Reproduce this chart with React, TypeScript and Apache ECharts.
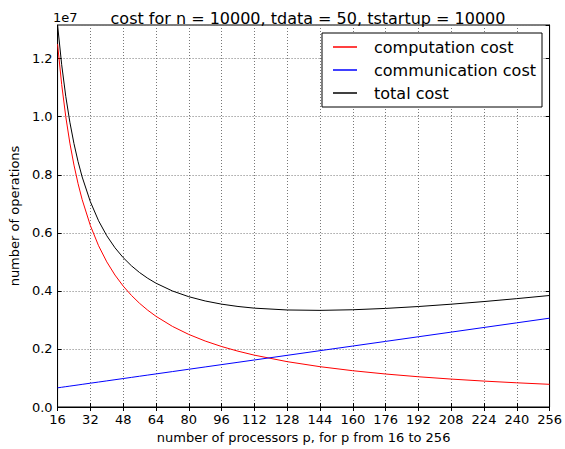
import React, { useEffect, useRef } from "react";
import * as echarts from "echarts";

const processors = [16, 18, 20, 22, 24, 26, 28, 32, 36, 40, 44, 48, 52, 56, 60, 64, 72, 80, 88, 96, 104, 112, 128, 144, 160, 176, 192, 208, 224, 240, 256];
const computationCost = [12500000, 11111111, 10000000, 9090909, 8333333, 7692308, 7142857, 6250000, 5555556, 5000000, 4545455, 4166667, 3846154, 3571429, 3333333, 3125000, 2777778, 2500000, 2272727, 2083333, 1923077, 1785714, 1562500, 1388889, 1250000, 1136364, 1041667, 961538, 892857, 833333, 781250];
const communicationCost = [660000, 680000, 700000, 720000, 740000, 760000, 780000, 820000, 860000, 900000, 940000, 980000, 1020000, 1060000, 1100000, 1140000, 1220000, 1300000, 1380000, 1460000, 1540000, 1620000, 1780000, 1940000, 2100000, 2260000, 2420000, 2580000, 2740000, 2900000, 3060000];
const totalCost = [13160000, 11791111, 10700000, 9810909, 9073333, 8452308, 7922857, 7070000, 6415556, 5900000, 5485455, 5146667, 4866154, 4631429, 4433333, 4265000, 3997778, 3800000, 3652727, 3543333, 3463077, 3405714, 3342500, 3328889, 3350000, 3396364, 3461667, 3541538, 3632857, 3733333, 3841250];

const seriesNames = ["computation cost", "communication cost", "total cost"];
const seriesColors = ["#ff0000", "#0000ff", "#000000"];
const titleText = "cost for n = 10000, tdata = 50, tstartup = 10000";
const xName = "number of processors p, for p from 16 to 256";
const yName = "number of operations";

const FONT = "DejaVu Sans";

export default function App() {
  const ref = useRef<HTMLDivElement>(null);
  useEffect(() => {
    document.body.style.margin = "0";
    const chart = echarts.init(ref.current!, null, { renderer: "svg" });
    const pairs = (ys: number[]) => processors.map((p, i) => [p, ys[i]]);
    const gridLine = { show: true, lineStyle: { color: "#777", width: 1, type: [1, 2] } };
    const labelStyle = { color: "#000", fontSize: 13, fontFamily: FONT };
    chart.setOption({
      animation: false,
      textStyle: { fontFamily: FONT },
      title: {
        text: titleText,
        left: 303,
        textAlign: "center",
        top: 5,
        textStyle: { fontSize: 16, fontWeight: "normal", color: "#000", fontFamily: FONT },
      },
      legend: {
        orient: "vertical",
        left: 322,
        top: 33,
        width: 222,
        data: seriesNames,
        backgroundColor: "#fff",
        borderColor: "#000",
        borderWidth: 1,
        borderRadius: 0,
        padding: [5, 6, 5, 11],
        itemWidth: 24,
        itemHeight: 1.5,
        itemGap: 5,
        icon: "rect",
        textStyle: { fontSize: 16, color: "#000", fontFamily: FONT, lineHeight: 18, padding: [0, 0, 0, 12] },
      },
      grid: {
        left: 53,
        right: 13,
        top: 25,
        bottom: 38,
        show: true,
        borderColor: "#000",
        borderWidth: 1,
        backgroundColor: "transparent",
      },
      graphic: [
        {
          type: "text",
          left: 53,
          top: 11,
          style: { text: "1e7", fontSize: 13, fill: "#000", fontFamily: FONT },
        },
      ],
      xAxis: [
        {
          type: "value",
          min: 16,
          max: 256,
          interval: 16,
          name: xName,
          nameLocation: "middle",
          nameGap: 24,
          nameTextStyle: { fontSize: 13, color: "#000", fontFamily: FONT },
          axisLine: { show: true, lineStyle: { color: "#000", width: 1 } },
          axisTick: { show: true, inside: true, length: 4, lineStyle: { color: "#000" } },
          axisLabel: { ...labelStyle, margin: 6 },
          splitLine: gridLine,
        },
        {
          type: "value",
          position: "top",
          min: 16,
          max: 256,
          interval: 16,
          axisLine: { show: true, lineStyle: { color: "#000", width: 1 } },
          axisTick: { show: true, inside: true, length: 4, lineStyle: { color: "#000" } },
          axisLabel: { show: false },
          splitLine: { show: false },
        },
      ],
      yAxis: [
        {
          type: "value",
          min: 0,
          max: 13160000,
          interval: 2000000,
          name: yName,
          nameLocation: "middle",
          nameRotate: 90,
          nameGap: 32,
          nameTextStyle: { fontSize: 13, color: "#000", fontFamily: FONT },
          axisLine: { show: true, lineStyle: { color: "#000", width: 1 } },
          axisTick: { show: true, inside: true, length: 4, lineStyle: { color: "#000" } },
          axisLabel: {
            ...labelStyle,
            margin: 5,
            showMaxLabel: false,
            formatter: (v: number) => (v / 1e7).toFixed(1),
          },
          splitLine: gridLine,
        },
        {
          type: "value",
          position: "right",
          min: 0,
          max: 13160000,
          interval: 2000000,
          axisLine: { show: true, lineStyle: { color: "#000", width: 1 } },
          axisTick: { show: true, inside: true, length: 4, lineStyle: { color: "#000" } },
          axisLabel: { show: false },
          splitLine: { show: false },
        },
      ],
      series: [computationCost, communicationCost, totalCost].map((ys, i) => ({
        name: seriesNames[i],
        type: "line",
        data: pairs(ys),
        showSymbol: false,
        symbol: "none",
        color: seriesColors[i],
        lineStyle: { color: seriesColors[i], width: 1 },
        clip: true,
      })),
    });
    return () => chart.dispose();
  }, []);
  return <div ref={ref} style={{ width: 565, height: 449 }} />;
}
